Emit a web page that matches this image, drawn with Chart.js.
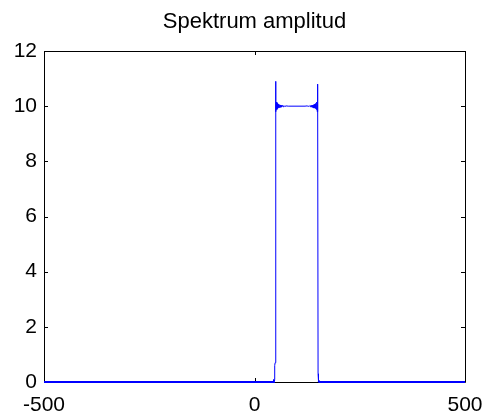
<!DOCTYPE html>
<html>
<head>
<meta charset="utf-8">
<script src="https://cdn.jsdelivr.net/npm/chart.js@4/dist/chart.umd.min.js"></script>
<style>
  html, body { margin: 0; padding: 0; background: #fff; }
  #wrap { width: 488px; height: 417px; }
</style>
</head>
<body>
<div id="wrap"><canvas id="spectrumChart" width="488" height="417"></canvas></div>
<script>
// Amplitude spectrum (frequency -> amplitude)
const freqs = [-500, 44, 46, 47, 48, 49,
               50, 51, 52, 53, 54, 55, 56, 57, 58, 59, 60, 61, 62, 63, 64, 65, 66, 68, 70, 72, 75, 80,
               120, 125, 128, 130, 132, 134, 135, 136, 137, 138, 139, 140, 141, 142, 143, 144, 145, 146, 147, 148, 149, 150,
               151, 152, 154, 500];
const amps  = [0, 0, 0.03, 0.1, 0.6, 0.7,
               10.9, 9.8, 10.15, 9.88, 10.1, 9.92, 10.07, 9.94, 10.06, 9.95, 10.05, 9.96, 10.04, 9.97, 10.03, 9.97, 10.03, 9.98, 10.02, 9.99, 10.01, 10,
               10, 10.01, 9.99, 10.02, 9.98, 10.03, 9.97, 10.03, 9.96, 10.04, 9.95, 10.05, 9.94, 10.06, 9.93, 10.08, 9.91, 10.1, 9.88, 10.15, 9.8, 10.8,
               0.3, 0.05, 0, 0];

const xTicks = [-500, 0, 500];
const yTicks = [0, 2, 4, 6, 8, 10, 12];
const titleText = 'Spektrum amplitud';

const FONT = 'Liberation Sans, Arial, Helvetica, sans-serif';

/**
 * MATLAB style box with inward tick marks, title centred over the axes
 */
const boxTicks = {
    id: 'boxTicks',
    beforeDatasetsDraw(chart) {
        const { ctx, chartArea: a, scales } = chart;
        ctx.save();
        ctx.strokeStyle = '#000';
        ctx.lineWidth = 1;
        ctx.beginPath();
        ctx.rect(Math.round(a.left) + 0.5, Math.round(a.top) + 0.5,
                 Math.round(a.right - a.left), Math.round(a.bottom - a.top));
        const len = 4;
        yTicks.forEach(v => {
            const y = Math.round(scales.y.getPixelForValue(v)) + 0.5;
            ctx.moveTo(a.left, y); ctx.lineTo(a.left + len, y);
            ctx.moveTo(a.right, y); ctx.lineTo(a.right - len, y);
        });
        xTicks.forEach(v => {
            const x = Math.round(scales.x.getPixelForValue(v)) + 0.5;
            ctx.moveTo(x, a.bottom); ctx.lineTo(x, a.bottom - len);
            ctx.moveTo(x, a.top); ctx.lineTo(x, a.top + len);
        });
        ctx.stroke();

        // title
        ctx.fillStyle = '#000';
        ctx.font = '22px ' + FONT;
        ctx.textAlign = 'center';
        ctx.textBaseline = 'alphabetic';
        ctx.fillText(titleText, (a.left + a.right) / 2, 28);
        ctx.restore();
    }
};

function buildChart() {
    const ctx = document.getElementById('spectrumChart');
    const points = freqs.map((f, i) => ({ x: f, y: amps[i] }));

    new Chart(ctx, {
        type: 'line',
        data: {
            datasets: [{
                data: points,
                borderColor: '#0000ff',
                borderWidth: 1,
                pointRadius: 0,
                tension: 0,
                clip: 2,
                // noise floor is drawn a bit heavier, as in the original
                segment: {
                    borderWidth: c => (c.p0.parsed.y < 0.2 && c.p1.parsed.y < 0.2) ? 2 : 1
                }
            }]
        },
        options: {
            responsive: false,
            animation: false,
            layout: { padding: { left: 0, right: 23, top: 51, bottom: 0 } },
            plugins: {
                legend: { display: false },
                tooltip: { enabled: false },
                title: { display: false }
            },
            scales: {
                x: {
                    type: 'linear',
                    min: -500,
                    max: 500,
                    afterBuildTicks: s => { s.ticks = xTicks.map(v => ({ value: v })); },
                    afterFit: s => { s.height = 35; s.paddingLeft = 0; s.paddingRight = 0; },
                    grid: { display: false, drawTicks: false },
                    border: { display: false },
                    ticks: { color: '#000', padding: 11, maxRotation: 0,
                             font: { family: FONT, size: 21 } }
                },
                y: {
                    min: 0,
                    max: 12,
                    afterBuildTicks: s => { s.ticks = yTicks.map(v => ({ value: v })); },
                    afterFit: s => { s.width = 44; s.paddingTop = 0; s.paddingBottom = 0; },
                    grid: { display: false, drawTicks: false },
                    border: { display: false },
                    ticks: { color: '#000', padding: 7,
                             font: { family: FONT, size: 21 } }
                }
            }
        },
        plugins: [boxTicks]
    });
}

buildChart();
</script>
</body>
</html>
